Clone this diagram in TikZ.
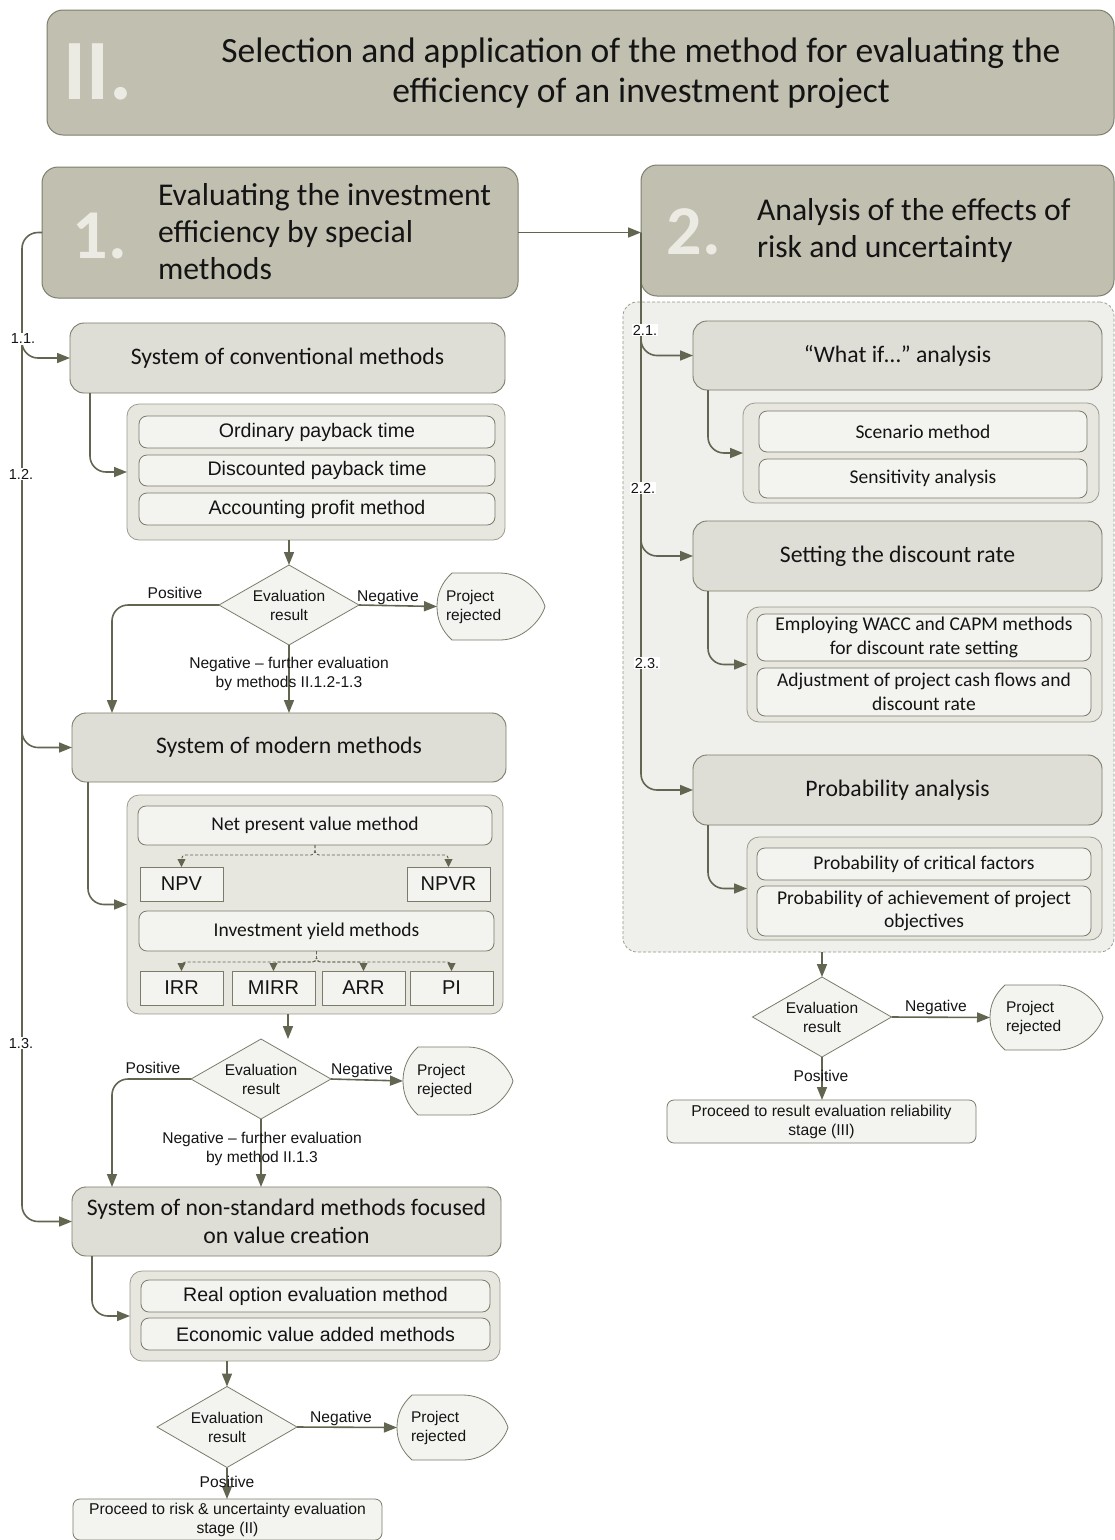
\documentclass[tikz,border=0pt]{standalone}
\usepackage{fontspec}
\setmainfont{Carlito}
\newfontfamily\arialf{Liberation Sans}
\usetikzlibrary{shapes.geometric,arrows.meta,calc}
\pgfdeclarelayer{bg}
\pgfsetlayers{bg,main}

\definecolor{hdrfill}{HTML}{C1BFB0}
\definecolor{hdrline}{HTML}{7E7E6C}
\definecolor{sysfill}{HTML}{DFDED6}
\definecolor{grpfill}{HTML}{E7E6DF}
\definecolor{itemfill}{HTML}{F3F3F0}
\definecolor{contfill}{HTML}{EFEFEB}
\definecolor{linecol}{HTML}{62654F}
\definecolor{boxline}{HTML}{7B7B69}
\definecolor{numcol}{HTML}{ECEBE3}
\definecolor{txt}{HTML}{141414}

\tikzset{
  every node/.style={inner sep=0pt, outer sep=0pt, text=txt},
  sz/.style 2 args={minimum width=#1pt, minimum height=#2pt},
  hdr/.style={draw=hdrline, fill=hdrfill, rounded corners=16pt, line width=1pt},
  sys/.style={draw=boxline, fill=sysfill, rounded corners=14pt, line width=0.9pt,
    font=\fontsize{23.7}{28}\selectfont, align=center},
  grp/.style={draw=boxline!75, fill=grpfill, rounded corners=12pt, line width=0.8pt},
  cont/.style={draw=boxline!80, dash pattern=on 3pt off 2pt, fill=contfill,
    rounded corners=14pt, line width=0.7pt},
  itema/.style={draw=boxline, fill=itemfill, rounded corners=8pt, line width=0.8pt,
    font=\arialf\fontsize{19.6}{22}\selectfont, align=center},
  itemc/.style={draw=boxline, fill=itemfill, rounded corners=8pt, line width=0.8pt,
    font=\fontsize{19.5}{23.5}\selectfont, align=center},
  abbr/.style={draw=boxline, fill=itemfill, line width=0.8pt,
    font=\arialf\fontsize{20}{22}\selectfont},
  dec/.style={diamond, draw=boxline, fill=itemfill, shape aspect=1.75, line width=0.8pt,
    align=center, font=\arialf\fontsize{15.5}{19}\selectfont},
  rej/.style={align=left, font=\arialf\fontsize{15.5}{19}\selectfont},
  fin/.style={draw=boxline, fill=itemfill, rounded corners=7pt, line width=0.8pt,
    align=center, font=\arialf\fontsize{15.7}{19}\selectfont},
  num/.style={text=numcol, font=\bfseries\fontsize{70}{70}\selectfont},
  htext/.style={align=left, font=\fontsize{31.7}{37}\selectfont},
  lbl/.style={align=center, font=\arialf\fontsize{15.6}{19}\selectfont},
  tag/.style={fill=white, inner sep=1pt, font=\arialf\fontsize{14.5}{16}\selectfont},
  conn/.style={draw=linecol, line width=1.6pt, rounded corners=16pt,
    -{Triangle[length=13pt,width=10pt]}},
  dconn/.style={draw=linecol, line width=0.9pt, dash pattern=on 3pt off 2pt,
    rounded corners=4pt, -{Triangle[length=8pt,width=8pt]}},
}

% outline of a "project rejected" display shape around a named node
\newcommand\rejoutline[1]{%
  \begin{pgfonlayer}{bg}
  \draw[draw=boxline, fill=itemfill, line width=0.8pt]
    ([xshift=15pt]#1.north west) -- ([xshift=-45pt]#1.north east)
    .. controls ([xshift=-22pt]#1.north east) and ([xshift=-4pt,yshift=14pt]#1.east) .. (#1.east)
    .. controls ([xshift=-4pt,yshift=-14pt]#1.east) and ([xshift=-22pt]#1.south east) .. ([xshift=-45pt]#1.south east)
    -- ([xshift=15pt]#1.south west)
    .. controls ([xshift=4pt,yshift=10pt]#1.south west) and ([yshift=-12pt]#1.west) .. (#1.west)
    .. controls ([yshift=12pt]#1.west) and ([xshift=4pt,yshift=-10pt]#1.north west) .. cycle;
  \end{pgfonlayer}}

\begin{document}
\begin{tikzpicture}[x=1pt,y=-1pt]
\useasboundingbox (0,0) rectangle (1115,1540);

% ---------- stage title ----------
\node[hdr, sz={1067}{125}] (title) at (580.5,72.5) {};
\node[num, font=\bfseries\fontsize{86}{86}\selectfont] (tnum) at (98,72) {II.};
\node[align=center, font=\fontsize{35.5}{40}\selectfont] (ttext) at (641,73)
  {Selection and application of the method for evaluating the\\efficiency of an investment project};

% ---------- part 1 header ----------
\node[hdr, sz={476}{131}] (box1) at (280,232.5) {};
\node[num] (n1) at (100,236) {1.};
\node[htext, anchor=west] (t1) at (158,232) {Evaluating the investment\\efficiency by special\\methods};

% ---------- part 2 header ----------
\node[cont, sz={491}{650}] (cont) at (868.5,627) {};
\node[hdr, sz={473}{131}] (box2) at (877.5,230.5) {};
\node[num] (n2) at (694,232) {2.};
\node[htext, anchor=west] (t2) at (757,231) {Analysis of the effects of\\risk and uncertainty};

% ---------- 1.1 conventional methods ----------
\node[sys, sz={435}{70}] (conv) at (287.5,358) {System of conventional methods};
\node[grp, sz={378}{136}] (grp1) at (316,472) {};
\node[itema, sz={356}{32}] (opt) at (317,432) {Ordinary payback time};
\node[itema, sz={356}{31}] (dpt) at (317,470.5) {Discounted payback time};
\node[itema, sz={356}{32}] (apm) at (317,509) {Accounting profit method};

\node[dec, sz={140}{80}] (d1) at (289,605) {Evaluation\\result};
\node[rej, sz={108}{67}, text width=96pt] (rej1) at (491,606.5) {\hspace*{3pt}Project\\\hspace*{3pt}rejected};
\rejoutline{rej1}

% ---------- 1.2 modern methods ----------
\node[sys, sz={434}{69}] (modern) at (289,747.5) {System of modern methods};
\node[grp, sz={376}{219}] (grp2) at (315,904.5) {};
\node[itemc, sz={354}{39}] (npvm) at (315,825.5) {Net present value method};
\node[abbr, sz={83}{34}] (npv) at (181.5,884) {NPV};
\node[abbr, sz={83}{34}] (npvr) at (448.5,884) {NPVR};
\node[itemc, sz={355}{40}] (iym) at (316.5,931) {Investment yield methods};
\node[abbr, sz={83}{34}] (irr) at (181.5,988) {IRR};
\node[abbr, sz={83}{34}] (mirr) at (273.5,988) {MIRR};
\node[abbr, sz={83}{34}] (arr) at (363.5,988) {ARR};
\node[abbr, sz={83}{34}] (pi) at (451.5,988) {PI};

\node[dec, sz={140}{80}] (d2) at (261,1079) {Evaluation\\result};
\node[rej, sz={110}{68}, text width=96pt] (rej2) at (458,1081) {\hspace*{7pt}Project\\\hspace*{7pt}rejected};
\rejoutline{rej2}

% ---------- 1.3 non-standard methods ----------
\node[sys, sz={429}{69}] (nonstd) at (286.5,1221.5) {System of non-standard methods focused\\on value creation};
\node[grp, sz={370}{90}] (grp3) at (315,1316) {};
\node[itema, sz={349}{32}] (rom) at (315.5,1296) {Real option evaluation method};
\node[itema, sz={349}{32}] (eva) at (315.5,1334) {Economic value added methods};

\node[dec, sz={140}{81}] (d3) at (227,1427) {Evaluation\\result};
\node[rej, sz={111}{65}, text width=96pt] (rej3) at (452.5,1427.5) {\hspace*{6.5pt}Project\\\hspace*{6.5pt}rejected};
\rejoutline{rej3}
\node[fin, sz={309}{41}] (fin1) at (227.5,1519.5) {Proceed to risk \& uncertainty evaluation\\stage (II)};

% ---------- 2.x risk analysis ----------
\node[sys, sz={409}{69}] (whatif) at (897.5,355.5) {“What if…” analysis};
\node[grp, sz={356}{100}] (grpa) at (921,453) {};
\node[itemc, sz={328}{41}] (scen) at (923,431.5) {Scenario method};
\node[itemc, sz={328}{39}] (sens) at (923,478.5) {Sensitivity analysis};

\node[sys, sz={409}{70}] (setting) at (897.5,556) {Setting the discount rate};
\node[grp, sz={355}{115}] (grpb) at (924.5,664.5) {};
\node[itemc, sz={334}{47}] (wacc) at (924,637.5) {Employing WACC and CAPM methods\\for discount rate setting};
\node[itemc, sz={334}{48}] (adj) at (924,692) {Adjustment of project cash flows and\\discount rate};

\node[sys, sz={409}{70}] (prob) at (897.5,790) {Probability analysis};
\node[grp, sz={355}{103}] (grpc) at (924.5,888.5) {};
\node[itemc, sz={334}{32}] (pcf) at (924,864) {Probability of critical factors};
\node[itemc, sz={334}{50}] (pao) at (924,911) {Probability of achievement of project\\objectives};

\node[dec, sz={139}{80}] (d4) at (822,1017) {Evaluation\\result};
\node[rej, sz={113}{65}, text width=100pt] (rej4) at (1046.5,1017.5) {\hspace*{9.5pt}Project\\\hspace*{9.5pt}rejected};
\rejoutline{rej4}
\node[fin, sz={309}{43}] (fin2) at (821.5,1121.5) {Proceed to result evaluation reliability\\stage (III)};

% ---------- connectors, part 1 ----------
\coordinate (sp) at (22,0);
\draw[conn] (box1.west) -| (nonstd.west -| sp) -- (nonstd.west);
\draw[conn] ($(conv.west -| sp)+(0,-30)$) -- (conv.west -| sp) -- (conv.west);
\draw[conn] ($(modern.west -| sp)+(0,-30)$) -- (modern.west -| sp) -- (modern.west);
\node[tag] (l11) at (23,339) {1.1.};
\node[tag] (l12) at (21,474) {1.2.};
\node[tag] (l13) at (21,1043) {1.3.};

\draw[conn] ([xshift=20pt]conv.south west) |- (grp1.west);
\draw[conn] (d1.north |- grp1.south) -- (d1.north);
\draw[conn] (d1.east) -- (rej1.west);
\draw[conn] (d1.west) -| ([xshift=40pt]modern.north west);
\draw[conn] (d1.south) -- (d1.south |- modern.north);
\node[lbl] (pos1) at (175,593) {Positive};
\node[lbl] (neg1) at (388,597) {Negative};
\node[lbl] (fur1) at (289,674) {Negative – further evaluation\\by methods II.1.2-1.3};

\draw[conn] ([xshift=16pt]modern.south west) |- (grp2.west);
\draw[dconn] (npvm.south) -- ([yshift=-10pt]npvm.south) -| (npv.north);
\draw[dconn] (npvm.south) -- ([yshift=-10pt]npvm.south) -| (npvr.north);
\draw[dconn] (iym.south) -- ([yshift=-11pt]iym.south) -| (irr.north);
\draw[dconn] (iym.south) -- ([yshift=-11pt]iym.south) -| (mirr.north);
\draw[dconn] (iym.south) -- ([yshift=-11pt]iym.south) -| (arr.north);
\draw[dconn] (iym.south) -- ([yshift=-11pt]iym.south) -| (pi.north);

\draw[conn] ([xshift=-27pt]grp2.south) -- ([xshift=27pt]d2.north);
\draw[conn] (d2.east) -- (rej2.west);
\draw[conn] (d2.west) -| ([xshift=40pt]nonstd.north west);
\draw[conn] (d2.south) -- (d2.south |- nonstd.north);
\node[lbl] (pos2) at (153,1068) {Positive};
\node[lbl] (neg2) at (362,1070) {Negative};
\node[lbl] (fur2) at (262,1149) {Negative – further evaluation\\by method II.1.3};

\draw[conn] ([xshift=20pt]nonstd.south west) |- (grp3.west);
\draw[conn] (d3.north |- grp3.south) -- (d3.north);
\draw[conn] (d3.east) -- (rej3.west);
\draw[conn] (d3.south) -- (d3.south |- fin1.north);
\node[lbl] (neg3) at (341,1418) {Negative};
\node[lbl] (pos3) at (227,1482) {Positive};

% ---------- connectors, part 2 ----------
\coordinate (sp2) at (641,0);
\draw[conn] (box1.east) -- (box1.east -| box2.west);
\draw[conn] (box1.east -| box2.west) -- (prob.west -| sp2) -- (prob.west);
\draw[conn] ($(whatif.west -| sp2)+(0,-30)$) -- (whatif.west -| sp2) -- (whatif.west);
\draw[conn] ($(setting.west -| sp2)+(0,-30)$) -- (setting.west -| sp2) -- (setting.west);
\node[tag] (l21) at (645,330) {2.1.};
\node[tag] (l22) at (643,488) {2.2.};
\node[tag] (l23) at (647,663) {2.3.};

\draw[conn] ([xshift=15pt]whatif.south west) |- (grpa.west);
\draw[conn] ([xshift=15pt]setting.south west) |- (grpb.west);
\draw[conn] ([xshift=15pt]prob.south west) |- (grpc.west);

\draw[conn] (d4.north |- cont.south) -- (d4.north);
\draw[conn] (d4.east) -- (rej4.west);
\draw[conn] (d4.south) -- (d4.south |- fin2.north);
\node[lbl] (neg4) at (936,1007) {Negative};
\node[lbl] (pos4) at (821,1076) {Positive};
\end{tikzpicture}
\end{document}
